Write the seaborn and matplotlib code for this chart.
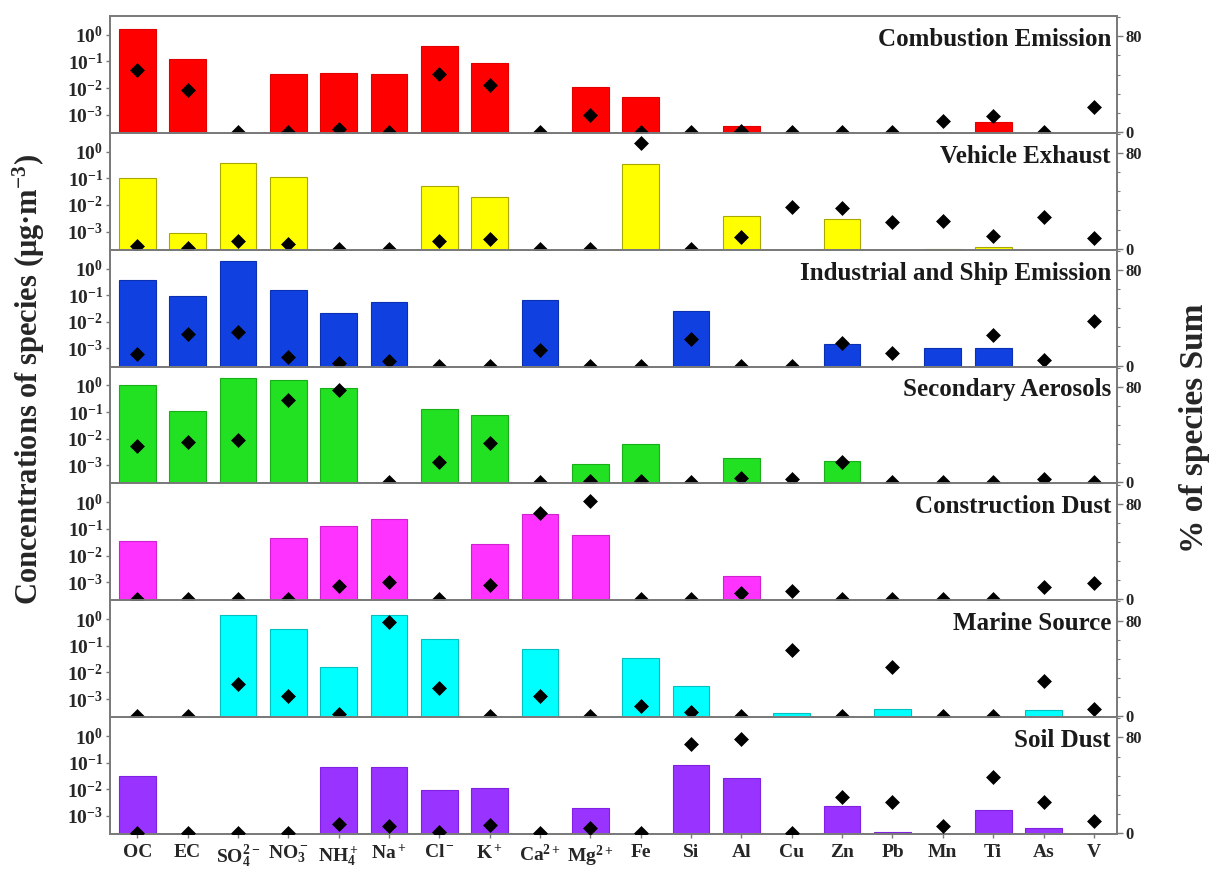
import numpy as np
import pandas as pd
import matplotlib
matplotlib.use("Agg")
import matplotlib.pyplot as plt
from matplotlib.ticker import FixedLocator, MultipleLocator, NullLocator
import seaborn as sns

nan = np.nan

# Chemical species on the x axis
species = ["OC", "EC", "SO4", "NO3", "NH4", "Na", "Cl", "K", "Ca", "Mg",
           "Fe", "Si", "Al", "Cu", "Zn", "Pb", "Mn", "Ti", "As", "V"]
species_labels = ["OC", "EC", r"SO$_4^{2-}$", r"NO$_3^-$", r"NH$_4^+$", r"Na$^+$",
                  r"Cl$^-$", r"K$^+$", r"Ca$^{2+}$", r"Mg$^{2+}$", "Fe", "Si", "Al",
                  "Cu", "Zn", "Pb", "Mn", "Ti", "As", "V"]

sources = ["Combustion Emission", "Vehicle Exhaust", "Industrial and Ship Emission",
           "Secondary Aerosols", "Construction Dust", "Marine Source", "Soil Dust"]
colors = ["#FF0000", "#FFFF00", "#1040E0", "#22E022", "#FF33FF", "#00FFFF", "#9933FF"]
edges = ["#E00000", "#A8A800", "#0A2FB0", "#18B018", "#D020D0", "#00C0C0", "#8020E0"]

# Concentrations of species (ug m-3), log axis
conc_combustion = [1.7, 0.12, nan, 0.033, 0.038, 0.033, 0.38, 0.09, nan, 0.011,
                   0.0047, nan, 0.00039, nan, nan, nan, nan, 0.00054, nan, nan]
conc_vehicle = [0.10, 0.00085, 0.39, 0.11, nan, nan, 0.051, 0.020, nan, nan,
                0.34, nan, 0.0038, nan, 0.0031, nan, 0.00023, 0.00026, nan, nan]
conc_industrial = [0.37, 0.096, 1.85, 0.16, 0.021, 0.057, nan, nan, 0.065, nan,
                   nan, 0.026, nan, nan, 0.0015, nan, 0.00107, 0.0010, nan, nan]
conc_secondary = [1.0, 0.11, 1.9, 1.55, 0.83, nan, 0.135, 0.077, nan, 0.00115,
                  0.0063, nan, 0.0019, nan, 0.0014, nan, nan, nan, nan, nan]
conc_construction = [0.035, nan, nan, 0.046, 0.125, 0.245, nan, 0.026, 0.35, 0.06,
                     nan, nan, 0.0017, nan, nan, nan, nan, nan, nan, nan]
conc_marine = [nan, nan, 1.46, 0.42, 0.0155, 1.38, 0.174, nan, 0.077, nan,
               0.035, 0.0031, nan, 0.00031, nan, 0.00043, nan, nan, 0.00039, nan]
conc_soil = [0.031, nan, nan, nan, 0.066, 0.066, 0.0092, 0.0115, nan, 0.0019,
             nan, 0.081, 0.026, nan, 0.0023, 0.00025, nan, 0.0016, 0.00035, nan]

# Share of each species in its total (%), right axis
pct_combustion = [51.6, 35.4, 0, 0, 2, 0, 48.8, 39.3, 0, 14.3,
                  0, 0, 1, 0, 0, 0, 8.7, 13.7, 0, 20.8]
pct_vehicle = [2.3, 1, 6.6, 4.3, 0, 0, 6.6, 7.8, 0, 0,
               88.6, 0, 9.6, 34.9, 34.0, 22.3, 23.2, 10.7, 26.2, 8.7]
pct_industrial = [10, 26.4, 28, 6.9, 2, 3.5, 0, 0, 13.2, 0,
                  0, 22, 0, 0, 18.5, 10.6, nan, 25.9, 4.8, 37]
pct_secondary = [30.6, 34.1, 35.6, 68.8, 77, 0, 17.2, 33.2, 0, 1,
                 1.5, 0, 3.9, 3.3, 16.9, 0, 0, 0, 3.3, 0]
pct_construction = [0, 0, 0, 0.5, 10.9, 14.4, 0, 11.8, 72.6, 82.4,
                    0, 0, 5.6, 6.8, 0, 0, 0, 0, 10.4, 13.3]
pct_marine = [0, 0, 26.5, 16.8, 2, 78.5, 23.5, 0, 16.8, 0,
              8.8, 3.5, 0, 55, 0, 41.1, 0, 0, 29.4, 6.4]
pct_soil = [0, 0, 0, 0, 7.7, 5.7, 1, 7.1, 0, 4.3,
            0, 74.3, 78.6, 0, 30, 25.7, 5.7, 46.6, 25.7, 10]

conc_sets = [conc_combustion, conc_vehicle, conc_industrial, conc_secondary,
             conc_construction, conc_marine, conc_soil]
pct_sets = [pct_combustion, pct_vehicle, pct_industrial, pct_secondary,
            pct_construction, pct_marine, pct_soil]

sns.set_theme(style="ticks")
plt.rcParams["font.family"] = ["Liberation Serif", "DejaVu Serif"]
plt.rcParams["font.weight"] = "bold"
plt.rcParams["mathtext.fontset"] = "custom"
plt.rcParams["mathtext.rm"] = "Liberation Serif:bold"
plt.rcParams["mathtext.bf"] = "Liberation Serif:bold"
plt.rcParams["mathtext.it"] = "Liberation Serif:bold:italic"

spine_col = "#7a7a7a"

fig, axes = plt.subplots(7, 1, figsize=(12.16, 8.73), dpi=100, sharex=True,
                         gridspec_kw=dict(hspace=0))
fig.subplots_adjust(left=0.0905, right=0.9186, top=0.9817, bottom=0.0447)

xpos = np.arange(len(species))
dec_ticks = [1e-3, 1e-2, 1e-1, 1e0]
dec_labels = [r"$10^{-3}$", r"$10^{-2}$", r"$10^{-1}$", r"$10^{0}$"]

for i, ax in enumerate(axes):
    df = pd.DataFrame({"species": species, "conc": conc_sets[i], "pct": pct_sets[i]})
    sns.barplot(data=df, x="species", y="conc", order=species, color=colors[i],
                saturation=1, width=0.73, edgecolor=edges[i], linewidth=0.8, ax=ax)
    ax.set_yscale("log")
    ax.set_ylim(10 ** -3.68, 10 ** 0.71)
    ax.yaxis.set_major_locator(FixedLocator(dec_ticks))
    ax.set_yticklabels(dec_labels, fontsize=14)
    ax.yaxis.set_minor_locator(NullLocator())
    ax.set_xlim(-0.54, len(species) - 0.54)
    ax.set_xlabel("")
    ax.set_ylabel("")

    tw = ax.twinx()
    sns.scatterplot(x=xpos, y=df["pct"], marker="D", s=50, color="black",
                    edgecolor="black", linewidth=0.5, ax=tw, zorder=5)
    tw.set_ylim(-0.8, 97)
    tw.yaxis.set_major_locator(FixedLocator([0, 80]))
    tw.yaxis.set_minor_locator(MultipleLocator(16))
    tw.set_yticklabels(["0", "80"], fontsize=12)
    tw.set_ylabel("")
    tw.tick_params(axis="y", which="major", length=4, width=1, color=spine_col, pad=2)
    tw.tick_params(axis="y", which="minor", length=2.5, width=0.8, color=spine_col)

    for a in (ax, tw):
        for sp in a.spines.values():
            sp.set_color(spine_col)
            sp.set_linewidth(1.3)
    ax.tick_params(axis="y", which="major", length=3, width=1, color=spine_col, pad=2)

    ax.text(0.994, 0.80, sources[i], transform=ax.transAxes, ha="right", va="center",
            fontsize=18, fontweight="bold", color="#1a1a1a", zorder=6)

    if i < len(axes) - 1:
        ax.tick_params(axis="x", which="both", length=0, labelbottom=False)
    else:
        ax.set_xticks(xpos)
        ax.set_xticklabels(species_labels, fontsize=14)
        ax.tick_params(axis="x", length=3, width=1, color=spine_col, pad=4)

fig.text(0.024, 0.565, r"Concentrations of species (μg·m$^{-3}$)", rotation=90,
         ha="center", va="center", fontsize=22, fontweight="bold")
fig.text(0.982, 0.51, "% of species Sum", rotation=90, ha="center", va="center",
         fontsize=24, fontweight="bold")

fig.savefig("out.png", dpi=100)
